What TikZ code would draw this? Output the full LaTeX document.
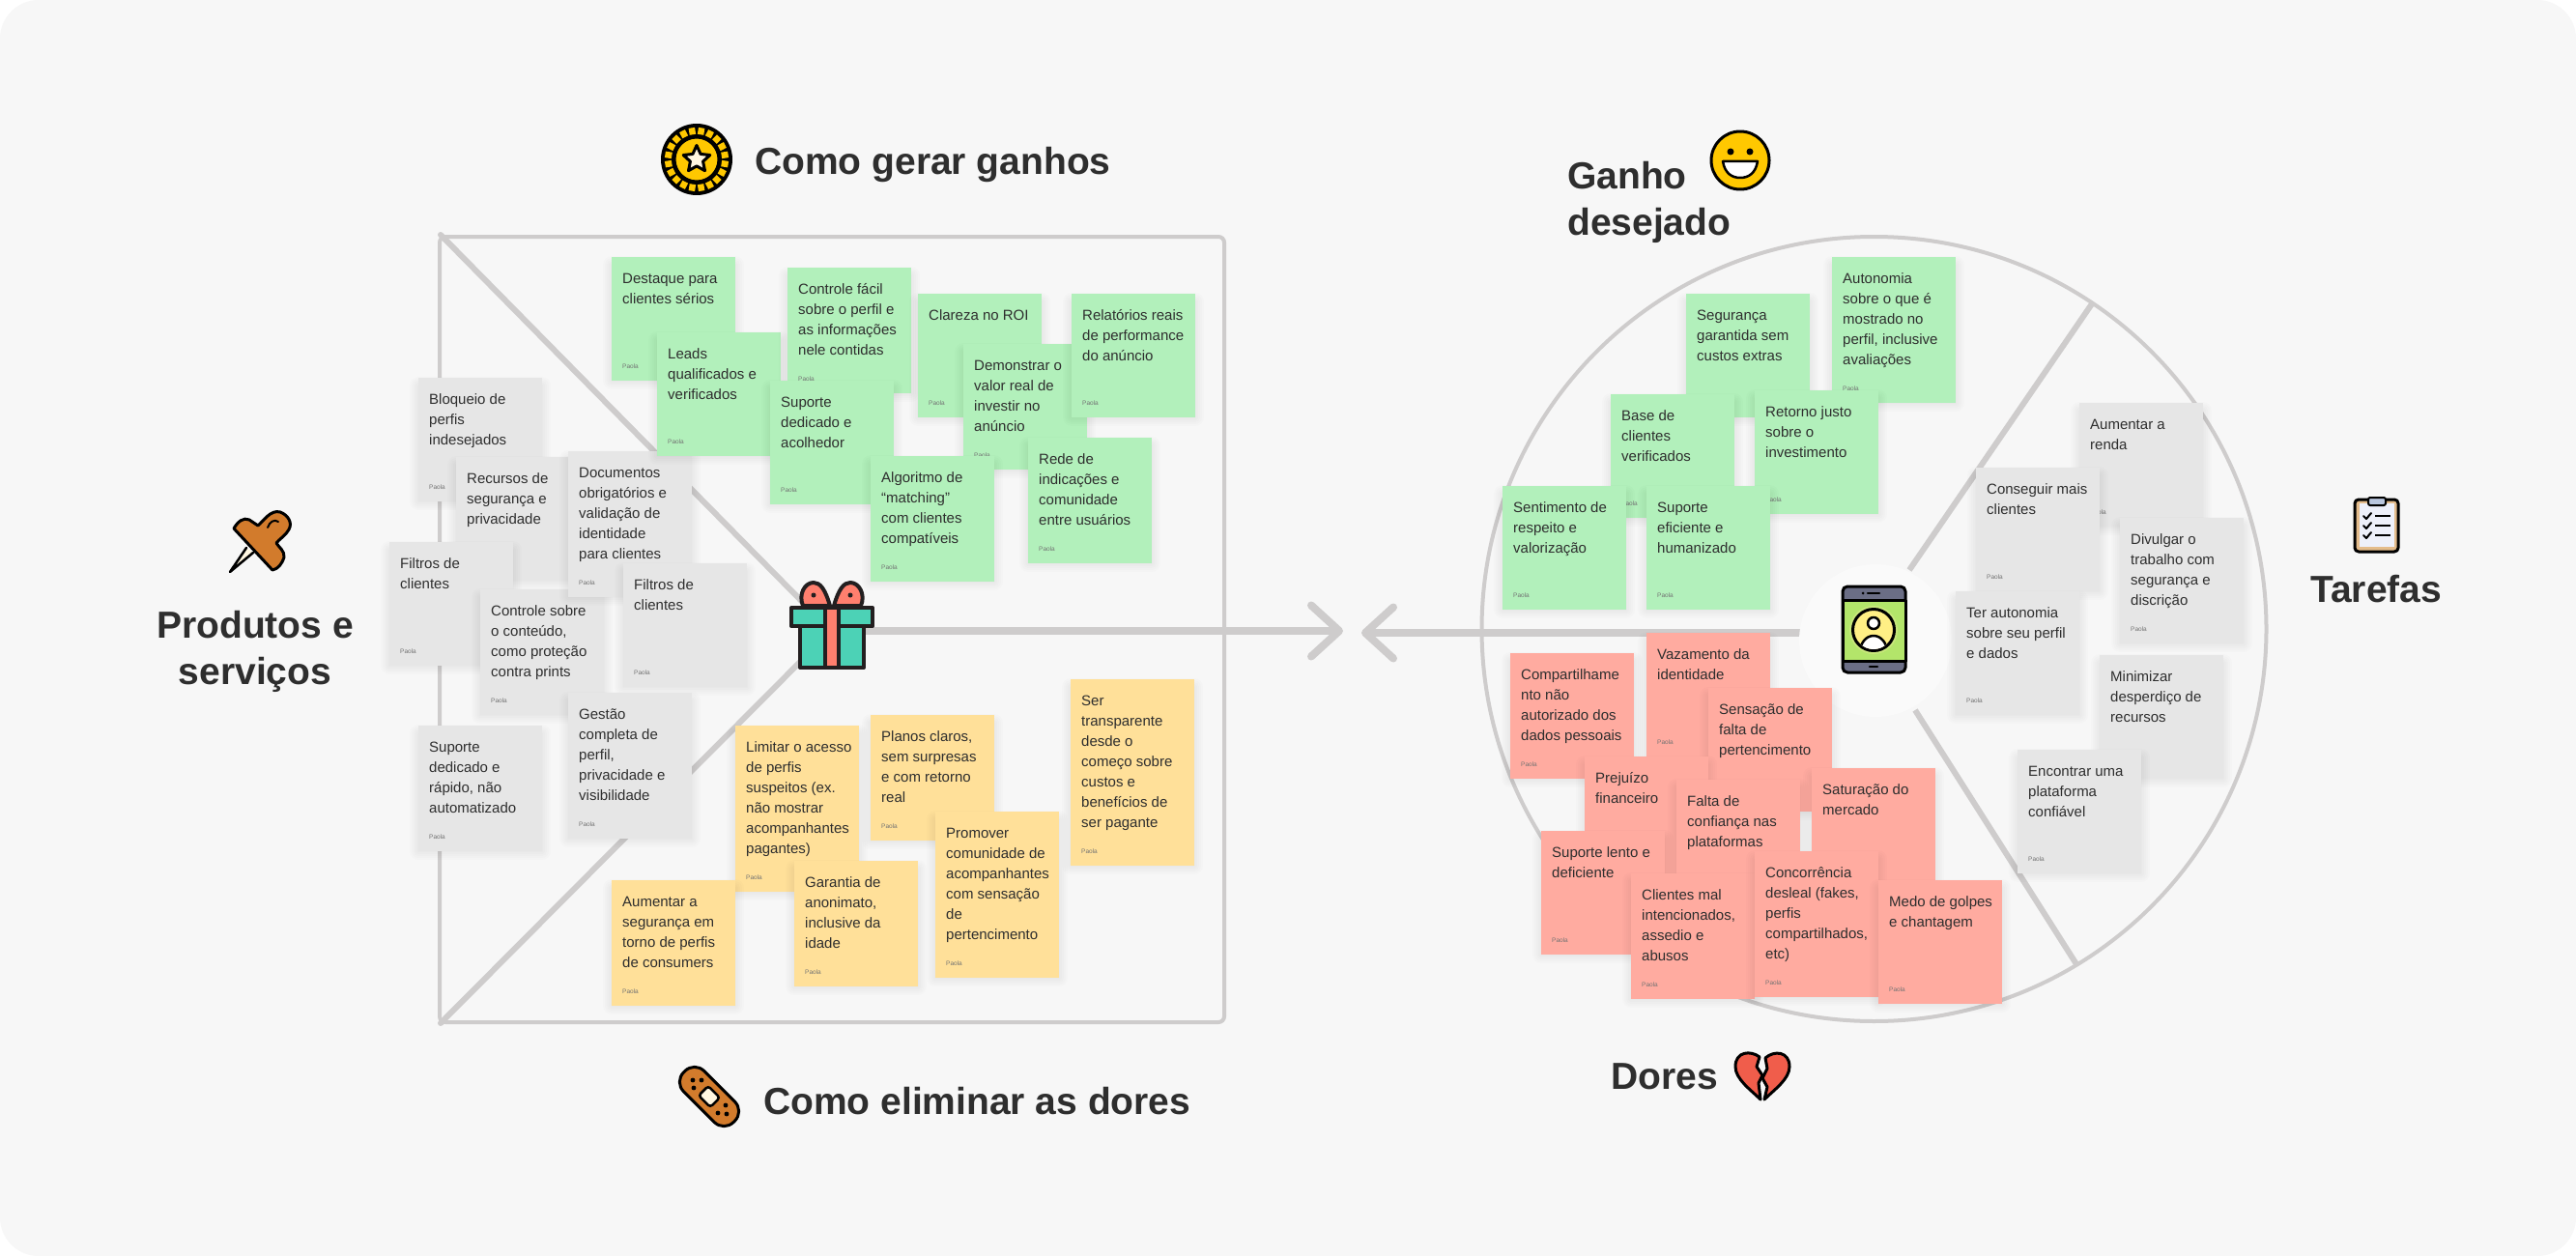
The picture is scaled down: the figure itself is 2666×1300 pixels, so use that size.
\documentclass[tikz,border=0pt]{standalone}
\usepackage{fontspec}
\setmainfont{Liberation Sans}
\usetikzlibrary{arrows.meta,shapes.geometric}

\definecolor{fundo}{HTML}{F7F7F7}
\definecolor{linha}{HTML}{CECCCC}
\definecolor{verde}{HTML}{B2F0BB}
\definecolor{cinza}{HTML}{E6E6E6}
\definecolor{amarelo}{HTML}{FFE099}
\definecolor{vermelho}{HTML}{FFABA0}
\definecolor{tinta}{HTML}{2E2E2E}
\definecolor{ouro}{HTML}{FFC800}
\definecolor{creme}{HTML}{FFF6E0}
\definecolor{laranja}{HTML}{D27B2C}
\definecolor{turquesa}{HTML}{4CD2B6}
\definecolor{coral}{HTML}{FF7F6E}
\definecolor{contorno}{HTML}{231F20}
\definecolor{coracao}{HTML}{F05D4B}
\definecolor{madeira}{HTML}{E4BC8C}
\definecolor{papel}{HTML}{EEF0FA}
\definecolor{presilha}{HTML}{B9C6DE}
\definecolor{aparelho}{HTML}{6B6E85}
\definecolor{tela}{HTML}{B3E56A}
\definecolor{halo}{HTML}{C8E77B}
\definecolor{rosto}{HTML}{FFEF85}

\tikzset{
  traco/.style={draw=linha, line width=6pt},
  seta/.style={draw=linha, line width=8pt, -{Straight Barb[length=29pt,width=53pt,round]}},
  contornado/.style={draw=black, line width=3pt, line join=round, line cap=round},
  bilhete/.style={rectangle, anchor=north west, minimum width=128pt, inner sep=0pt},
  sombra/.style={black, opacity=.012},
  escrita/.style={anchor=north west, inner sep=0pt, align=left, text=tinta,
    font=\fontsize{15}{21}\selectfont},
  assinatura/.style={anchor=west, inner sep=0pt, text=black!55,
    font=\fontsize{6.5}{8}\selectfont},
  titulo/.style={inner sep=0pt, text=tinta, font=\fontsize{39}{48}\selectfont\bfseries}
}

% nome, x, y, altura, cor, texto
\newcommand{\nota}[6]{
  \foreach \r in {1,3,5,7,9}
    \fill[sombra, rounded corners=\r pt] (#2-\r,#3+8-\r) rectangle (#2+128+\r,#3+#4+\r);
  \node[bilhete, fill=#5, minimum height=#4pt] (#1) at (#2,#3) {};
  \node[escrita] (#1-t) at ([xshift=11pt,yshift=-15.5pt]#1.north west) {\rule{0pt}{12pt}#6};
  \node[assinatura] (#1-p) at ([xshift=11pt,yshift=15pt]#1.south west) {Paola};
}

\begin{document}
\begin{tikzpicture}[x=1pt,y=-1pt]
  \useasboundingbox (0,0) rectangle (2666,1300);
  \fill[white] (0,0) rectangle (2666,1300);
  \fill[fundo, rounded corners=40pt] (0,0) rectangle (2666,1300);

  \coordinate (cantosup) at (456,243);
  \coordinate (cantoinf) at (456,1059);
  \coordinate (presente) at (860,653);
  \coordinate (pontadir) at (1390,653);
  \coordinate (pontaesq) at (1409,655);
  \coordinate (fonecentro) at (1900,655);
  \coordinate (telacima) at (1976,590);
  \coordinate (telabaixo) at (1982,735);
  \coordinate (arcocima) at (2166,313);
  \coordinate (arcobaixo) at (2149,998);

  \draw[draw=linha, line width=4pt, rounded corners=6pt] (455,245) -- (1267,245) -- (1267,1058) -- (455,1058) -- cycle;
  \draw[traco, line cap=round] (cantosup) -- (presente);
  \draw[traco, line cap=round] (cantoinf) -- (presente);
  \draw[seta] (presente) -- (pontadir);

  \draw[draw=linha, line width=4pt] (1939.5,651) circle[radius=406];
  \draw[traco] (telacima) -- (arcocima);
  \draw[traco] (telabaixo) -- (arcobaixo);
  \draw[seta] (fonecentro) -- (pontaesq);
  \node[circle, fill=white!40!fundo, minimum size=158pt, inner sep=0pt] (celular) at (1941,663) {};

  \nota{bloqueio}{433}{391}{128}{cinza}{Bloqueio de\\perfis\\indesejados}
  \nota{recursos}{472}{473}{128}{cinza}{Recursos de\\segurança e\\privacidade}
  \nota{filtrosa}{403}{561}{128}{cinza}{Filtros de\\clientes}
  \nota{controlesobre}{497}{610}{130}{cinza}{Controle sobre\\o conteúdo,\\como proteção\\contra prints}
  \nota{documentos}{588}{467}{151}{cinza}{Documentos\\obrigatórios e\\validação de\\identidade\\para clientes}
  \nota{filtrosb}{645}{583}{128}{cinza}{Filtros de\\clientes}
  \nota{rapido}{433}{751}{130}{cinza}{Suporte\\dedicado e\\rápido, não\\automatizado}
  \nota{gestao}{588}{717}{151}{cinza}{Gestão\\completa de\\perfil,\\privacidade e\\visibilidade}

  \nota{destaque}{633}{266}{128}{verde}{Destaque para\\clientes sérios}
  \nota{leads}{680}{344}{128}{verde}{Leads\\qualificados e\\verificados}
  \nota{controlefacil}{815}{277}{130}{verde}{Controle fácil\\sobre o perfil e\\as informações\\nele contidas}
  \nota{clareza}{950}{304}{128}{verde}{Clareza no ROI}
  \nota{demonstrar}{997}{356}{130}{verde}{Demonstrar o\\valor real de\\investir no\\anúncio}
  \nota{relatorios}{1109}{304}{128}{verde}{Relatórios reais\\de performance\\do anúncio}
  \nota{acolhedor}{797}{394}{128}{verde}{Suporte\\dedicado e\\acolhedor}
  \nota{rede}{1064}{453}{130}{verde}{Rede de\\indicações e\\comunidade\\entre usuários}
  \nota{algoritmo}{901}{472}{130}{verde}{Algoritmo de\\“matching”\\com clientes\\compatíveis}

  \nota{limitar}{761}{751}{172}{amarelo}{Limitar o acesso\\de perfis\\suspeitos (ex.\\não mostrar\\acompanhantes\\pagantes)}
  \nota{planos}{901}{740}{130}{amarelo}{Planos claros,\\sem surpresas\\e com retorno\\real}
  \nota{transparente}{1108}{703}{193}{amarelo}{Ser\\transparente\\desde o\\começo sobre\\custos e\\benefícios de\\ser pagante}
  \nota{promover}{968}{840}{172}{amarelo}{Promover\\comunidade de\\acompanhantes\\com sensação\\de\\pertencimento}
  \nota{garantia}{822}{891}{130}{amarelo}{Garantia de\\anonimato,\\inclusive da\\idade}
  \nota{aumentar}{633}{911}{130}{amarelo}{Aumentar a\\segurança em\\torno de perfis\\de consumers}

  \nota{seguranca}{1745}{304}{128}{verde}{Segurança\\garantida sem\\custos extras}
  \nota{autonomia}{1896}{266}{151}{verde}{Autonomia\\sobre o que é\\mostrado no\\perfil, inclusive\\avaliações}
  \nota{base}{1667}{408}{128}{verde}{Base de\\clientes\\verificados}
  \nota{retorno}{1816}{404}{128}{verde}{Retorno justo\\sobre o\\investimento}
  \nota{sentimento}{1555}{503}{128}{verde}{Sentimento de\\respeito e\\valorização}
  \nota{eficiente}{1704}{503}{128}{verde}{Suporte\\eficiente e\\humanizado}

  \nota{renda}{2152}{417}{128}{cinza}{Aumentar a\\renda}
  \nota{conseguir}{2045}{484}{128}{cinza}{Conseguir mais\\clientes}
  \nota{divulgar}{2194}{536}{130}{cinza}{Divulgar o\\trabalho com\\segurança e\\discrição}
  \nota{seuperfil}{2024}{612}{128}{cinza}{Ter autonomia\\sobre seu perfil\\e dados}
  \nota{minimizar}{2173}{678}{128}{cinza}{Minimizar\\desperdiço de\\recursos}
  \nota{encontrar}{2088}{776}{128}{cinza}{Encontrar uma\\plataforma\\confiável}

  \nota{vazamento}{1704}{655}{128}{vermelho}{Vazamento da\\identidade}
  \nota{compartilhamento}{1563}{676}{130}{vermelho}{Compartilhame\\nto não\\autorizado dos\\dados pessoais}
  \nota{sensacao}{1768}{712}{128}{vermelho}{Sensação de\\falta de\\pertencimento}
  \nota{prejuizo}{1640}{783}{128}{vermelho}{Prejuízo\\financeiro}
  \nota{falta}{1735}{807}{128}{vermelho}{Falta de\\confiança nas\\plataformas}
  \nota{saturacao}{1875}{795}{128}{vermelho}{Saturação do\\mercado}
  \nota{lento}{1595}{860}{128}{vermelho}{Suporte lento e\\deficiente}
  \nota{malintencionados}{1688}{904}{130}{vermelho}{Clientes mal\\intencionados,\\assedio e\\abusos}
  \nota{concorrencia}{1816}{881}{151}{vermelho}{Concorrência\\desleal (fakes,\\perfis\\compartilhados,\\etc)}
  \nota{medo}{1944}{911}{128}{vermelho}{Medo de golpes\\e chantagem}

  \node[titulo, anchor=west] (ganhos) at (781,171) {Como gerar ganhos};
  \node[titulo, anchor=west] (dores) at (790,1140) {Como eliminar as dores};
  \node[titulo, anchor=west, align=left] (desejado) at (1622,209) {Ganho\\desejado};
  \node[titulo, anchor=west] (doresb) at (1667,1114) {Dores};
  \node[titulo, anchor=west] (tarefas) at (2391,610) {Tarefas};
  \node[titulo, align=center] (produtos) at (264,674) {Produtos e\\serviços};

  \fill[black] (721,165) circle[radius=37];
  \foreach \ang in {0,18,...,342}
    \draw[ouro, line width=6.5pt] (721,165) ++(\ang+9:26) -- ++(\ang+9:7);
  \fill[ouro, draw=black, line width=3pt] (721,165) circle[radius=23];
  \node[star, star points=5, star point ratio=2.1, fill=creme, draw=black, line width=3pt, line join=round, minimum size=29pt, inner sep=0pt] (estrela) at (721,165) {};

  \draw[contornado, fill=ouro] (1801,166) circle[radius=30];
  \fill (1791,157) circle[radius=3.5];
  \fill (1811,157) circle[radius=3.5];
  \draw[contornado, line width=2.5pt, fill=white] (1783,167) -- (1819,167) .. controls (1817,179) and (1810,184) .. (1801,184) .. controls (1792,184) and (1785,179) .. (1783,167) -- cycle;

  \draw[contorno, line width=4pt, fill=turquesa, line join=round] (828,648) rectangle (894,691);
  \draw[contorno, line width=4pt, fill=turquesa, line join=round] (819,629) rectangle (903,648);
  \draw[contorno, line width=4pt, fill=coral] (854,629) rectangle (868,691);
  \draw[contorno, line width=4pt, fill=coral, line join=round] (859,627) .. controls (854,610) and (849,603) .. (842,603) .. controls (833,603) and (826,615) .. (831,627) -- cycle;
  \draw[contorno, line width=4pt, fill=coral, line join=round] (863,627) .. controls (868,610) and (873,603) .. (880,603) .. controls (889,603) and (896,615) .. (891,627) -- cycle;
  \fill[contorno] (842,616) circle[radius=2.5];
  \fill[contorno] (880,616) circle[radius=2.5];

  \draw[contornado, fill=creme, line width=2.5pt] (255,567) -- (238,592) -- (262,572);
  \draw[contornado, fill=laranja] (242,547) .. controls (246,540) and (252,535) .. (258,538) -- (267,544) .. controls (272,540) and (280,527) .. (290,530) .. controls (298,533) and (303,541) .. (299,548) .. controls (296,554) and (289,558) .. (286,562) .. controls (288,566) and (295,570) .. (294,577) .. controls (292,583) and (288,589) .. (282,590) -- cycle;
  \draw[contornado, line width=2pt] (277,546) .. controls (279,540) and (284,537) .. (288,540);

  \node[rectangle, draw=black, line width=3pt, fill=laranja, rounded corners=14pt, minimum width=73pt, minimum height=30pt, rotate=-45] (curativo) at (734,1135) {};
  \node[rectangle, draw=black, line width=2.5pt, fill=creme, rounded corners=3pt, minimum width=17pt, minimum height=14pt, rotate=-45] (gaze) at (curativo.center) {};
  \foreach \px/\py in {717/1118,726/1118,718/1126,751/1144,743/1152,752/1153}
    \fill (\px,\py) circle[radius=2.4];

  \draw[contornado, fill=coracao] (1821,1094) .. controls (1812,1087) and (1796,1088) .. (1796,1104) .. controls (1796,1117) and (1812,1128) .. (1822,1138) -- (1820,1121) -- (1824,1113) -- (1818,1104) -- cycle;
  \draw[contornado, fill=coracao] (1827,1095) .. controls (1836,1087) and (1852,1088) .. (1852,1104) .. controls (1852,1117) and (1836,1128) .. (1826,1138) -- (1829,1125) -- (1824,1116) -- (1829,1106) -- cycle;

  \draw[contornado, fill=madeira, rounded corners=4pt] (2437,517) rectangle (2482,571);
  \fill[papel] (2442,521) rectangle (2478,566);
  \draw[contornado, line width=2pt, fill=presilha, rounded corners=2pt] (2451,515) -- (2469,515) -- (2469,523) -- (2451,523) -- cycle;
  \foreach \py in {534,544,554} {
    \draw[contornado, line width=2pt] (2446,\py) -- (2449,\py+3) -- (2454,\py-3);
    \draw[line width=1.5pt] (2458,\py) -- (2474,\py);
  }

  \draw[contornado, fill=aparelho, rounded corners=5pt] (1907,607) rectangle (1972,696);
  \draw[contornado, fill=tela] (1907,621) rectangle (1972,684);
  \fill[halo] (1939,652) circle[radius=25];
  \draw[contornado, fill=rosto] (1939,652) circle[radius=21.5];
  \begin{scope}
    \clip (1939,652) circle[radius=20];
    \draw[contornado, line width=2.5pt, fill=white] (1939,675) ellipse[x radius=14, y radius=17];
  \end{scope}
  \draw[contornado, line width=2.5pt, fill=white] (1939,645) circle[radius=6];
  \draw[contornado, line width=2.5pt] (1933,614) -- (1945,614);
  \fill (1928,614) circle[radius=1.5];
  \draw[contornado, line width=2.5pt] (1935,690) -- (1943,690);
\end{tikzpicture}
\end{document}
